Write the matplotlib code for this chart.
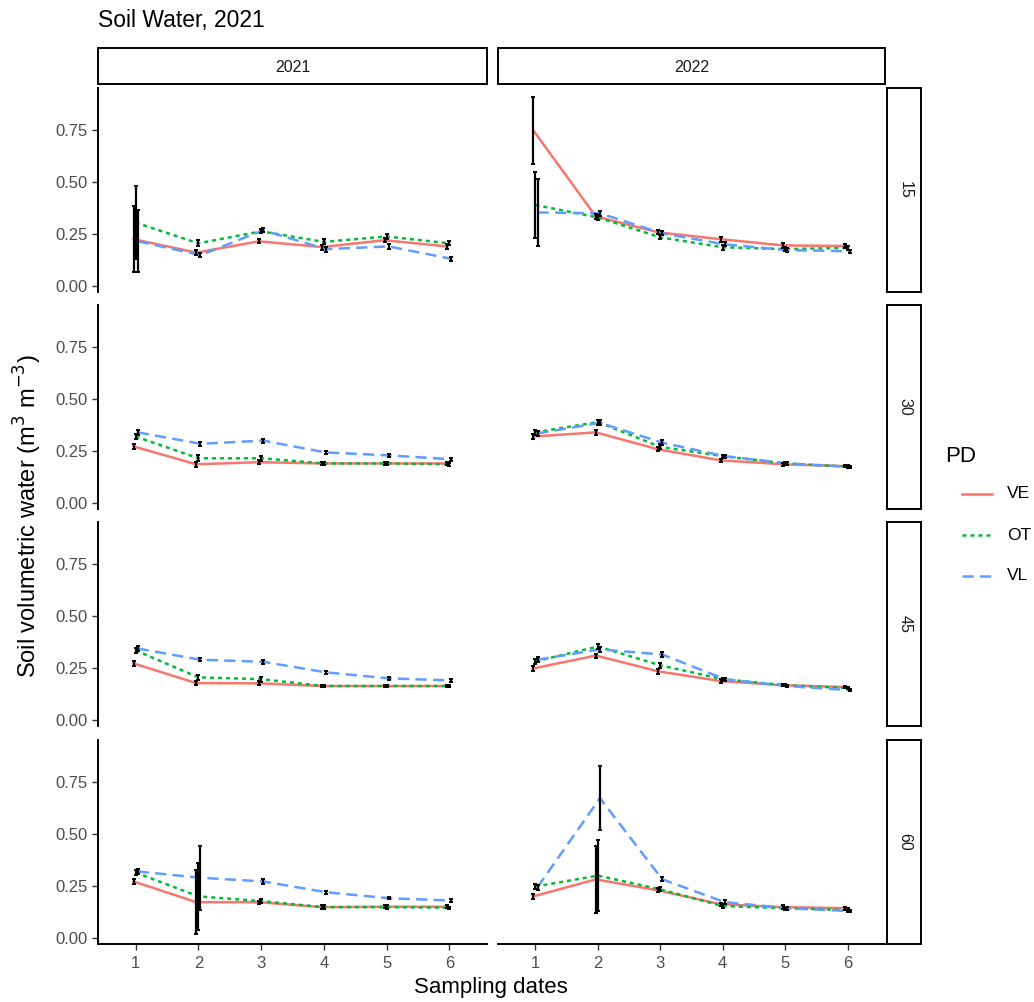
import matplotlib
matplotlib.use("Agg")
import matplotlib.pyplot as plt
from matplotlib.patches import Rectangle
from matplotlib.lines import Line2D
import numpy as np

plt.rcParams['font.family'] = ['Liberation Sans', 'DejaVu Sans']

years = ["2021", "2022"]
depths = ["15", "30", "45", "60"]
dates = [1, 2, 3, 4, 5, 6]
groups = ["VE", "OT", "VL"]
colors = {"VE": "#F8766D", "OT": "#00BA38", "VL": "#619CFF"}

# mean values [depth][year][group]
ve_2021 = {
    "15": [0.225, 0.160, 0.215, 0.187, 0.220, 0.190],
    "30": [0.272, 0.186, 0.196, 0.190, 0.190, 0.190],
    "45": [0.272, 0.177, 0.176, 0.163, 0.163, 0.163],
    "60": [0.272, 0.172, 0.172, 0.148, 0.150, 0.150],
}
ot_2021 = {
    "15": [0.305, 0.205, 0.263, 0.212, 0.238, 0.205],
    "30": [0.320, 0.215, 0.215, 0.190, 0.190, 0.186],
    "45": [0.335, 0.205, 0.196, 0.163, 0.163, 0.163],
    "60": [0.315, 0.200, 0.177, 0.148, 0.148, 0.145],
}
vl_2021 = {
    "15": [0.215, 0.148, 0.268, 0.177, 0.190, 0.130],
    "30": [0.340, 0.285, 0.300, 0.243, 0.229, 0.210],
    "45": [0.344, 0.290, 0.280, 0.229, 0.200, 0.190],
    "60": [0.320, 0.290, 0.272, 0.220, 0.191, 0.180],
}
ve_2022 = {
    "15": [0.750, 0.335, 0.258, 0.225, 0.195, 0.192],
    "30": [0.320, 0.340, 0.258, 0.205, 0.186, 0.177],
    "45": [0.248, 0.310, 0.234, 0.187, 0.167, 0.158],
    "60": [0.200, 0.282, 0.229, 0.162, 0.148, 0.143],
}
ot_2022 = {
    "15": [0.390, 0.330, 0.234, 0.186, 0.177, 0.183],
    "30": [0.340, 0.390, 0.270, 0.225, 0.190, 0.175],
    "45": [0.282, 0.354, 0.263, 0.196, 0.167, 0.153],
    "60": [0.248, 0.300, 0.234, 0.153, 0.143, 0.134],
}
vl_2022 = {
    "15": [0.354, 0.350, 0.253, 0.200, 0.172, 0.167],
    "30": [0.335, 0.386, 0.290, 0.225, 0.190, 0.173],
    "45": [0.290, 0.340, 0.315, 0.196, 0.163, 0.143],
    "60": [0.244, 0.674, 0.282, 0.172, 0.143, 0.129],
}
# standard errors
ve_se_2021 = {
    "15": [0.160, 0.012, 0.010, 0.012, 0.010, 0.010],
    "30": [0.010, 0.012, 0.010, 0.008, 0.006, 0.008],
    "45": [0.012, 0.010, 0.010, 0.006, 0.006, 0.006],
    "60": [0.012, 0.155, 0.008, 0.008, 0.008, 0.006],
}
ot_se_2021 = {
    "15": [0.175, 0.014, 0.010, 0.012, 0.010, 0.010],
    "30": [0.012, 0.014, 0.012, 0.008, 0.006, 0.008],
    "45": [0.012, 0.012, 0.012, 0.006, 0.006, 0.006],
    "60": [0.010, 0.160, 0.010, 0.008, 0.008, 0.006],
}
vl_se_2021 = {
    "15": [0.150, 0.010, 0.010, 0.012, 0.010, 0.008],
    "30": [0.012, 0.010, 0.010, 0.008, 0.006, 0.008],
    "45": [0.010, 0.008, 0.010, 0.006, 0.006, 0.006],
    "60": [0.010, 0.155, 0.012, 0.008, 0.006, 0.006],
}
ve_se_2022 = {
    "15": [0.160, 0.012, 0.010, 0.012, 0.012, 0.010],
    "30": [0.012, 0.012, 0.010, 0.008, 0.006, 0.006],
    "45": [0.012, 0.010, 0.012, 0.008, 0.006, 0.006],
    "60": [0.012, 0.160, 0.010, 0.008, 0.008, 0.008],
}
ot_se_2022 = {
    "15": [0.160, 0.012, 0.010, 0.012, 0.010, 0.010],
    "30": [0.012, 0.012, 0.012, 0.008, 0.006, 0.006],
    "45": [0.012, 0.014, 0.012, 0.008, 0.006, 0.006],
    "60": [0.012, 0.170, 0.010, 0.010, 0.008, 0.008],
}
vl_se_2022 = {
    "15": [0.160, 0.012, 0.010, 0.010, 0.010, 0.008],
    "30": [0.012, 0.012, 0.012, 0.008, 0.006, 0.006],
    "45": [0.012, 0.012, 0.010, 0.008, 0.006, 0.006],
    "60": [0.012, 0.155, 0.010, 0.010, 0.008, 0.006],
}

means = {"2021": {"VE": ve_2021, "OT": ot_2021, "VL": vl_2021},
         "2022": {"VE": ve_2022, "OT": ot_2022, "VL": vl_2022}}
ses = {"2021": {"VE": ve_se_2021, "OT": ot_se_2021, "VL": vl_se_2021},
       "2022": {"VE": ve_se_2022, "OT": ot_se_2022, "VL": vl_se_2022}}

dodge = {"VE": -0.033, "OT": 0.0, "VL": 0.033}
styles = {"VE": "-", "OT": (0, (1.6, 1.6)), "VL": (0, (4.5, 2.5))}

W, H = 1034, 1002
fig = plt.figure(figsize=(W / 100, H / 100), dpi=100)

col_x = [(98, 487), (498, 885)]
row_y = [(88, 292), (305, 509), (522, 726), (740, 944)]

def fx(px):
    return px / W

def fy(py):
    return 1 - py / H

tick_col = "#4D4D4D"
for r, d in enumerate(depths):
    for c, yr in enumerate(years):
        x0, x1 = col_x[c]
        y0, y1 = row_y[r]
        ax = fig.add_axes([fx(x0), fy(y1), fx(x1 - x0), (y1 - y0) / H])
        for g in groups:
            xs = np.array(dates) + dodge[g]
            ax.plot(xs, means[yr][g][d], color=colors[g], linestyle=styles[g],
                    lw=1.8, zorder=2)
        for g in groups:
            xs = np.array(dates) + dodge[g]
            ax.errorbar(xs, means[yr][g][d], yerr=ses[yr][g][d], fmt="none",
                        ecolor="black", elinewidth=1.6, capsize=1.7,
                        capthick=1.4, zorder=3)
        ax.set_xlim(0.4, 6.6)
        ax.set_ylim(-0.03, 0.955)
        ax.set_facecolor("white")
        for s in ["top", "right"]:
            ax.spines[s].set_visible(False)
        ax.spines["left"].set_visible(c == 0)
        ax.spines["bottom"].set_visible(r == 3)
        ax.spines["left"].set_linewidth(1.4)
        ax.spines["bottom"].set_linewidth(1.4)
        ax.set_yticks([0.0, 0.25, 0.5, 0.75])
        ax.set_xticks(dates)
        if c == 0:
            ax.set_yticklabels(["0.00", "0.25", "0.50", "0.75"])
            ax.tick_params(axis="y", length=4, width=1.0, color="#333333",
                           labelcolor=tick_col, labelsize=12, pad=3.5)
        else:
            ax.tick_params(axis="y", left=False, labelleft=False)
        if r == 3:
            ax.set_xticklabels([str(v) for v in dates])
            ax.tick_params(axis="x", length=4, width=1.0, color="#333333",
                           labelcolor=tick_col, labelsize=12, pad=5)
        else:
            ax.tick_params(axis="x", bottom=False, labelbottom=False)

# top strips
for c, yr in enumerate(years):
    x0, x1 = col_x[c]
    rect = Rectangle((fx(x0), fy(84)), fx(x1 - x0), 36 / H,
                     transform=fig.transFigure, facecolor="white",
                     edgecolor="black", lw=1.4)
    fig.add_artist(rect)
    fig.text(fx((x0 + x1) / 2), fy(67), yr, ha="center", va="center",
             fontsize=11.5, color="#1A1A1A")

# right strips
for r, d in enumerate(depths):
    y0, y1 = row_y[r]
    rect = Rectangle((fx(887), fy(y1)), fx(34), (y1 - y0) / H,
                     transform=fig.transFigure, facecolor="white",
                     edgecolor="black", lw=1.4)
    fig.add_artist(rect)
    fig.text(fx(905), fy((y0 + y1) / 2), d, ha="center", va="center",
             rotation=-90, fontsize=11.5, color="#1A1A1A")

fig.text(fx(98), fy(20), "Soil Water, 2021", ha="left", va="center",
         fontsize=16.5, color="black")
fig.text(fx(491), fy(988), "Sampling dates", ha="center", va="center",
         fontsize=16, color="black")
fig.text(fx(28), fy(516), "Soil volumetric water (m$^3$ m$^{-3}$)",
         ha="center", va="center", rotation=90, fontsize=17, color="black")

# legend (manual, ggplot-like)
fig.text(fx(945), fy(457), "PD", ha="left", va="center", fontsize=16,
         color="black")
leg_y = [494, 535, 576]
for g, ly in zip(groups, leg_y):
    fig.add_artist(Line2D([fx(962), fx(992)], [fy(ly), fy(ly)],
                          transform=fig.transFigure, color=colors[g],
                          linestyle=styles[g], lw=1.8))
    fig.text(fx(1007), fy(ly), g, ha="left", va="center", fontsize=12.5,
             color="black")

fig.savefig("out.png", dpi=100, facecolor="white")
